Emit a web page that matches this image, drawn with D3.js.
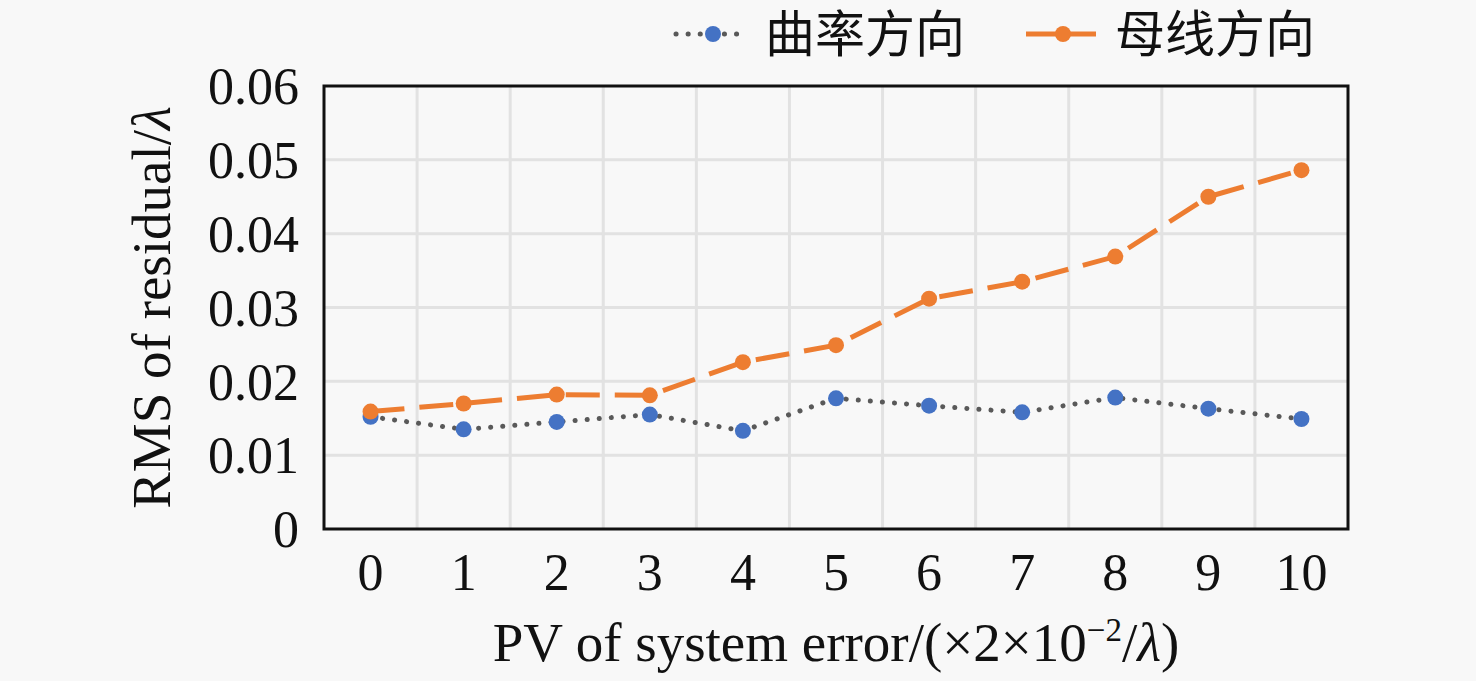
<!DOCTYPE html>
<html>
<head>
<meta charset="utf-8">
<script src="https://cdn.jsdelivr.net/npm/d3@7"></script>
<style>
  body { margin: 0; background: #f8f8f8; }
  svg { display: block; }
  .tick-label { font-family: "Liberation Serif", "Times New Roman", serif; font-size: 52px; fill: #111; }
  .axis-title { font-family: "Liberation Serif", "Times New Roman", serif; font-size: 55px; fill: #111; }
  .legend-text { font-family: "Noto Sans CJK SC", sans-serif; font-size: 50px; fill: #111; }
</style>
</head>
<body>
<svg id="chart" width="1476" height="681"></svg>
<script>
// data
const categories = ["0", "1", "2", "3", "4", "5", "6", "7", "8", "9", "10"]
const curvature = [0.0152, 0.0135, 0.0145, 0.0155, 0.0133, 0.0177, 0.0167, 0.0158, 0.0178, 0.0163, 0.0149]
const generatrix = [0.0159, 0.0170, 0.0182, 0.0181, 0.0226, 0.0249, 0.0312, 0.0335, 0.0369, 0.0450, 0.0486]
const yTicks = [0, 0.01, 0.02, 0.03, 0.04, 0.05, 0.06]
const seriesNames = ["曲率方向", "母线方向"]

const blue = "#4472C4"
const orange = "#ED7D31"
const dotGray = "#595959"

var svg = d3.select("#chart")

var plotL = 324, plotR = 1348, plotT = 86, plotB = 529

var x = d3.scaleBand()
    .domain(categories)
    .range([plotL, plotR])
    .paddingInner(0)
    .paddingOuter(0)

var y = d3.scaleLinear()
    .domain([0, 0.06])
    .range([plotB, plotT])

var cx = function (d, i) { return x(categories[i]) + x.bandwidth() / 2 }

// grid
var grid = svg.append("g")
grid.selectAll(".hgrid")
    .data(yTicks.slice(1, -1))
    .enter().append("line")
    .attr("x1", plotL).attr("x2", plotR)
    .attr("y1", d => y(d)).attr("y2", d => y(d))
    .style("stroke", "#e2e2e2")
    .style("stroke-width", 3)

grid.selectAll(".vgrid")
    .data(categories.slice(1))
    .enter().append("line")
    .attr("x1", d => x(d)).attr("x2", d => x(d))
    .attr("y1", plotT).attr("y2", plotB)
    .style("stroke", "#e2e2e2")
    .style("stroke-width", 3)

// frame
svg.append("rect")
    .attr("x", plotL).attr("y", plotT)
    .attr("width", plotR - plotL).attr("height", plotB - plotT)
    .style("fill", "none")
    .style("stroke", "#111")
    .style("stroke-width", 3)

// y tick labels
svg.append("g").selectAll("text")
    .data(yTicks)
    .enter().append("text")
    .classed("tick-label", true)
    .attr("x", 299)
    .attr("y", d => y(d))
    .attr("dy", "0.35em")
    .style("text-anchor", "end")
    .text(d => d === 0 ? "0" : d.toFixed(2))

// x tick labels
svg.append("g").selectAll("text")
    .data(categories)
    .enter().append("text")
    .classed("tick-label", true)
    .attr("x", d => x(d) + x.bandwidth() / 2)
    .attr("y", 590)
    .style("text-anchor", "middle")
    .text(d => d)

// axis titles
var yt = svg.append("text")
    .classed("axis-title", true)
    .attr("transform", "translate(170," + ((plotT + plotB) / 2) + ") rotate(-90)")
    .style("text-anchor", "middle")
yt.append("tspan").text("RMS of residual/")
yt.append("tspan").style("font-style", "italic").text("λ")

var xt = svg.append("text")
    .classed("axis-title", true)
    .attr("x", 836)
    .attr("y", 661)
    .style("text-anchor", "middle")
xt.append("tspan").text("PV of system error/(×2×10")
xt.append("tspan").attr("dy", -20).style("font-size", "33px").text("−2")
xt.append("tspan").attr("dy", 20).text("/")
xt.append("tspan").style("font-style", "italic").text("λ")
xt.append("tspan").text(")")

// series
var line = d3.line()
    .x(cx)
    .y(d => y(d))

svg.append("path")
    .datum(curvature)
    .attr("d", line)
    .style("fill", "none")
    .style("stroke", dotGray)
    .style("stroke-width", 5)
    .style("stroke-linecap", "round")
    .style("stroke-dasharray", "0.1 12")

svg.append("path")
    .datum(generatrix)
    .attr("d", line)
    .style("fill", "none")
    .style("stroke", orange)
    .style("stroke-width", 5)
    .style("stroke-dasharray", "34 15")

svg.append("g").selectAll("circle")
    .data(curvature)
    .enter().append("circle")
    .attr("cx", cx)
    .attr("cy", d => y(d))
    .attr("r", 8)
    .style("fill", blue)

svg.append("g").selectAll("circle")
    .data(generatrix)
    .enter().append("circle")
    .attr("cx", cx)
    .attr("cy", d => y(d))
    .attr("r", 8)
    .style("fill", orange)

// legend
var legend = svg.append("g")
var legendY = 34
var items = [
    { name: seriesNames[0], x: 676, color: blue, stroke: dotGray, dash: "0.1 12", cap: "round" },
    { name: seriesNames[1], x: 1026, color: orange, stroke: orange, dash: "30 12", cap: "butt" }
]
items.forEach(function (it) {
    legend.append("line")
        .attr("x1", it.x).attr("x2", it.x + 70)
        .attr("y1", legendY).attr("y2", legendY)
        .style("stroke", it.stroke)
        .style("stroke-width", 5)
        .style("stroke-linecap", it.cap)
        .style("stroke-dasharray", it.dash)
    legend.append("circle")
        .attr("cx", it.x + 37).attr("cy", legendY)
        .attr("r", 8)
        .style("fill", it.color)
    legend.append("text")
        .classed("legend-text", true)
        .attr("x", it.x + 89)
        .attr("y", legendY)
        .attr("dy", "0.36em")
        .text(it.name)
})
</script>
</body>
</html>
